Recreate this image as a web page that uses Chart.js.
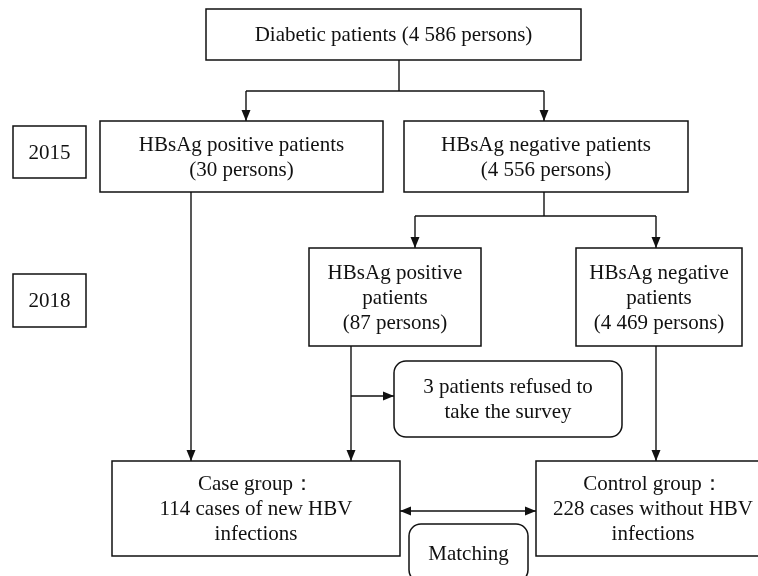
<!DOCTYPE html>
<html>
<head>
<meta charset="utf-8">
<script src="https://cdn.jsdelivr.net/npm/chart.js@4"></script>
<style>
  body { margin: 0; background: #fff; }
  #wrap { width: 758px; height: 576px; }
</style>
</head>
<body>
<div id="wrap"><canvas id="flow" width="758" height="576"></canvas></div>
<script>
const years = ["2015", "2018"]
const counts = [4586, 30, 4556, 87, 4469, 3, 114, 228]
const nodeLines = [
  ["Diabetic patients (# persons)"],
  ["HBsAg positive patients", "(# persons)"],
  ["HBsAg negative patients", "(# persons)"],
  ["HBsAg positive", "patients", "(# persons)"],
  ["HBsAg negative", "patients", "(# persons)"],
  ["# patients refused to", "take the survey"],
  ["Case group\uFF1A", "# cases of new HBV", "infections"],
  ["Control group\uFF1A", "# cases without HBV", "infections"]
]
const matchLabel = "Matching"

// layout in the 758 x 576 coordinate space of the scales
const nodeBox = [
  [206, 9, 581, 60],
  [100, 121, 383, 192],
  [404, 121, 688, 192],
  [309, 248, 481, 346],
  [576, 248, 742, 346],
  [394, 361, 622, 437],
  [112, 461, 400, 556],
  [536, 461, 770, 556]
]
const roundedNodes = [5]
const yearBox = [[13, 126, 86, 178], [13, 274, 86, 327]]
const matchBox = [409, 524, 528, 582]
// connectors: [points], arrow at end
const links = [
  { pts: [[399, 60], [399, 91]], arrow: false },
  { pts: [[246, 91], [544, 91]], arrow: false },
  { pts: [[246, 91], [246, 121]], arrow: true },
  { pts: [[544, 91], [544, 121]], arrow: true },
  { pts: [[191, 192], [191, 461]], arrow: true },
  { pts: [[544, 192], [544, 216]], arrow: false },
  { pts: [[415, 216], [656, 216]], arrow: false },
  { pts: [[415, 216], [415, 248]], arrow: true },
  { pts: [[656, 216], [656, 248]], arrow: true },
  { pts: [[351, 346], [351, 461]], arrow: true },
  { pts: [[351, 396], [394, 396]], arrow: true },
  { pts: [[656, 346], [656, 461]], arrow: true },
  { pts: [[400, 511], [536, 511]], arrow: true, both: true }
]

const FONT = "21px 'Liberation Serif', 'DejaVu Serif', serif"
const LINE_H = 25

function fmt(n) {
  return String(n).replace(/\B(?=(\d{3})+(?!\d))/g, " ")
}

function nodeText(i) {
  return nodeLines[i].map(l => l.replace("#", fmt(counts[i])))
}

function px(chart, x, y) {
  return [chart.scales.x.getPixelForValue(x), chart.scales.y.getPixelForValue(y)]
}

function drawBox(chart, b, rounded, lines) {
  const ctx = chart.ctx
  const [x1, y1] = px(chart, b[0], b[1])
  const [x2, y2] = px(chart, b[2], b[3])
  ctx.beginPath()
  if (rounded) {
    ctx.roundRect(x1, y1, x2 - x1, y2 - y1, 12)
  } else {
    ctx.rect(x1, y1, x2 - x1, y2 - y1)
  }
  ctx.fillStyle = "#fff"
  ctx.fill()
  ctx.stroke()
  ctx.fillStyle = "#111"
  ctx.font = FONT
  ctx.textAlign = "center"
  ctx.textBaseline = "middle"
  const cx = (x1 + x2) / 2
  const cy = (y1 + y2) / 2 + 1
  const top = cy - (lines.length - 1) * LINE_H / 2
  lines.forEach((l, k) => ctx.fillText(l, cx, top + k * LINE_H))
}

function arrowHead(ctx, from, to) {
  const a = Math.atan2(to[1] - from[1], to[0] - from[0])
  const len = 11, w = 4.5
  ctx.beginPath()
  ctx.moveTo(to[0], to[1])
  ctx.lineTo(to[0] - len * Math.cos(a) + w * Math.sin(a), to[1] - len * Math.sin(a) - w * Math.cos(a))
  ctx.lineTo(to[0] - len * Math.cos(a) - w * Math.sin(a), to[1] - len * Math.sin(a) + w * Math.cos(a))
  ctx.closePath()
  ctx.fill()
}

const flowPlugin = {
  id: "flow",
  afterDatasetsDraw(chart) {
    const ctx = chart.ctx
    ctx.save()
    ctx.strokeStyle = "#111"
    ctx.fillStyle = "#111"
    ctx.lineWidth = 1.4

    links.forEach(lk => {
      const p = lk.pts.map(q => px(chart, q[0], q[1]))
      ctx.beginPath()
      ctx.moveTo(p[0][0], p[0][1])
      for (let i = 1; i < p.length; i++) ctx.lineTo(p[i][0], p[i][1])
      ctx.stroke()
      ctx.fillStyle = "#111"
      if (lk.arrow) arrowHead(ctx, p[p.length - 2], p[p.length - 1])
      if (lk.both) arrowHead(ctx, p[1], p[0])
    })

    ctx.lineWidth = 1.5
    nodeBox.forEach((b, i) => drawBox(chart, b, roundedNodes.includes(i), nodeText(i)))
    yearBox.forEach((b, i) => drawBox(chart, b, false, [years[i]]))
    drawBox(chart, matchBox, true, [matchLabel])
    ctx.restore()
  }
}

new Chart(document.getElementById("flow").getContext("2d"), {
  type: "scatter",
  data: {
    datasets: [{
      data: nodeBox.map(b => ({ x: (b[0] + b[2]) / 2, y: (b[1] + b[3]) / 2 })),
      pointRadius: 0
    }]
  },
  options: {
    responsive: false,
    animation: false,
    layout: { padding: 0 },
    plugins: { legend: { display: false }, tooltip: { enabled: false } },
    scales: {
      x: { type: "linear", min: 0, max: 758, display: false },
      y: { type: "linear", min: 0, max: 576, reverse: true, display: false }
    }
  },
  plugins: [flowPlugin]
})
</script>
</body>
</html>
